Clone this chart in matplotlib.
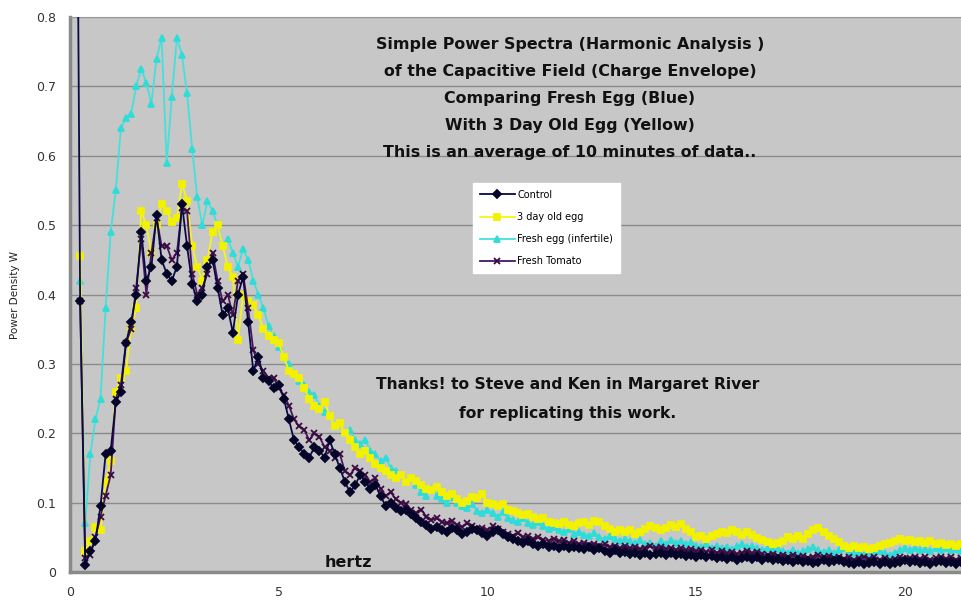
"""Power spectra of the capacitive field: fresh egg vs 3 day old egg."""

import numpy as np
import matplotlib
matplotlib.use("Agg")
import matplotlib.pyplot as plt

nan = np.nan

# frequency resolution of the spectra (Hz per bin), bins start at 1
BIN_HZ = 0.122

control = [
    1.5, 0.39, 0.01, 0.03, 0.045, 0.095, 0.17, 0.175, 0.245, 0.26,
    0.33, 0.36, 0.40, 0.49, 0.42, 0.44, 0.515, 0.45, 0.43, 0.42,
    0.44, 0.53, 0.47, 0.415, 0.39, 0.40, 0.44, 0.45, 0.41, 0.37,
    0.38, 0.345, 0.40, 0.425, 0.36, 0.29, 0.31, 0.28, 0.275, 0.265,
    0.27, 0.25, 0.22, 0.19, 0.18, 0.17, 0.165, 0.18, 0.175, 0.165,
    0.19, 0.17, 0.15, 0.13, 0.115, 0.125, 0.14, 0.13, 0.12, 0.125,
    0.11, 0.095, 0.10, 0.092, 0.088, 0.09, 0.084, 0.078, 0.072, 0.068,
    0.062, 0.065, 0.06, 0.058, 0.063, 0.06, 0.055, 0.058, 0.062, 0.06,
    0.056, 0.052, 0.058, 0.06, 0.055, 0.05, 0.048, 0.045, 0.042, 0.044,
    0.04, 0.038, 0.04, 0.036, 0.038, 0.035, 0.037, 0.034, 0.036, 0.035,
    0.033, 0.036, 0.032, 0.034, 0.03, 0.028, 0.031, 0.027, 0.029, 0.026,
    0.028, 0.025, 0.027, 0.024, 0.026, 0.028, 0.025, 0.027, 0.024, 0.026,
    0.023, 0.025, 0.022, 0.024, 0.021, 0.023, 0.02, 0.022, 0.019, 0.021,
    0.018, 0.02, 0.022, 0.019, 0.021, 0.018, 0.02, 0.017, 0.019, 0.016,
    0.018, 0.015, 0.017, 0.014, 0.016, 0.013, 0.015, 0.017, 0.014, 0.016,
    0.018, 0.015, 0.013, 0.012, 0.014, 0.011, 0.013, 0.015, 0.012, 0.014,
    0.011, 0.013, 0.015, 0.017, 0.014, 0.016, 0.013, 0.015, 0.012, 0.014,
    0.016, 0.013, 0.015, 0.012, 0.014,
]

old_egg = [
    nan, 0.455, 0.03, 0.045, 0.065, 0.06, 0.13, 0.16, 0.26, 0.28,
    0.29, 0.35, 0.38, 0.52, 0.50, 0.46, 0.50, 0.53, 0.52, 0.505,
    0.51, 0.56, 0.535, 0.47, 0.44, 0.42, 0.45, 0.49, 0.50, 0.47,
    0.44, 0.425, 0.335, 0.40, 0.39, 0.385, 0.37, 0.35, 0.34, 0.335,
    0.33, 0.31, 0.29, 0.285, 0.28, 0.265, 0.25, 0.24, 0.235, 0.245,
    0.225, 0.21, 0.215, 0.20, 0.19, 0.18, 0.17, 0.175, 0.165, 0.155,
    0.15, 0.145, 0.14, 0.136, 0.14, 0.13, 0.135, 0.131, 0.125, 0.12,
    0.118, 0.122, 0.115, 0.11, 0.112, 0.105, 0.10, 0.102, 0.108, 0.107,
    0.112, 0.10, 0.098, 0.095, 0.098, 0.09, 0.088, 0.085, 0.082, 0.084,
    0.08, 0.076, 0.078, 0.072, 0.07, 0.069, 0.072, 0.068, 0.066, 0.07,
    0.072, 0.068, 0.074, 0.072, 0.066, 0.062, 0.058, 0.061, 0.057, 0.06,
    0.055, 0.058, 0.062, 0.066, 0.064, 0.06, 0.064, 0.068, 0.065, 0.069,
    0.062, 0.058, 0.05, 0.052, 0.048, 0.052, 0.055, 0.058, 0.056, 0.06,
    0.058, 0.054, 0.057, 0.053, 0.049, 0.046, 0.043, 0.04, 0.042, 0.045,
    0.05, 0.047, 0.052, 0.048, 0.055, 0.06, 0.064, 0.058, 0.052, 0.047,
    0.043, 0.038, 0.035, 0.037, 0.034, 0.036, 0.033, 0.035, 0.038, 0.04,
    0.042, 0.045, 0.047, 0.044, 0.046, 0.043, 0.045, 0.042, 0.044, 0.04,
    0.042, 0.039, 0.041, 0.038, 0.04,
]

fresh_egg = [
    nan, 0.42, 0.07, 0.17, 0.22, 0.25, 0.38, 0.49, 0.55, 0.64,
    0.655, 0.66, 0.70, 0.725, 0.705, 0.675, 0.74, 0.77, 0.59, 0.685,
    0.77, 0.745, 0.69, 0.61, 0.54, 0.50, 0.535, 0.52, 0.50, 0.47,
    0.48, 0.46, 0.44, 0.465, 0.45, 0.42, 0.40, 0.38, 0.355, 0.34,
    0.325, 0.31, 0.30, 0.285, 0.275, 0.27, 0.26, 0.255, 0.24, 0.23,
    0.225, 0.21, 0.215, 0.20, 0.205, 0.19, 0.185, 0.19, 0.175, 0.17,
    0.16, 0.165, 0.15, 0.145, 0.14, 0.13, 0.135, 0.125, 0.115, 0.11,
    0.12, 0.11, 0.105, 0.10, 0.108, 0.10, 0.095, 0.092, 0.098, 0.088,
    0.085, 0.09, 0.085, 0.08, 0.086, 0.078, 0.075, 0.072, 0.078, 0.07,
    0.068, 0.072, 0.066, 0.062, 0.065, 0.06, 0.058, 0.062, 0.055, 0.058,
    0.054, 0.052, 0.056, 0.05, 0.048, 0.052, 0.047, 0.045, 0.048, 0.044,
    0.042, 0.046, 0.04, 0.042, 0.038, 0.044, 0.041, 0.046, 0.042, 0.045,
    0.04, 0.043, 0.038, 0.036, 0.04, 0.035, 0.038, 0.034, 0.036, 0.033,
    0.037, 0.04, 0.036, 0.038, 0.034, 0.032, 0.035, 0.031, 0.033, 0.03,
    0.028, 0.031, 0.027, 0.03, 0.033, 0.036, 0.032, 0.029, 0.031, 0.028,
    0.032, 0.035, 0.03, 0.027, 0.029, 0.025, 0.028, 0.026, 0.03, 0.027,
    0.025, 0.028, 0.031, 0.034, 0.032, 0.035, 0.031, 0.033, 0.03, 0.034,
    0.032, 0.035, 0.031, 0.033, 0.03,
]

tomato = [
    nan, 0.39, 0.02, 0.025, 0.05, 0.08, 0.11, 0.14, 0.25, 0.27,
    0.33, 0.35, 0.41, 0.48, 0.40, 0.46, 0.51, 0.47, 0.47, 0.45,
    0.46, 0.525, 0.52, 0.43, 0.40, 0.41, 0.43, 0.46, 0.42, 0.39,
    0.40, 0.37, 0.42, 0.43, 0.38, 0.32, 0.30, 0.29, 0.28, 0.28,
    0.265, 0.255, 0.24, 0.22, 0.21, 0.205, 0.19, 0.20, 0.195, 0.18,
    0.175, 0.165, 0.17, 0.145, 0.14, 0.15, 0.145, 0.14, 0.13, 0.135,
    0.12, 0.11, 0.115, 0.105, 0.10, 0.098, 0.09, 0.085, 0.09, 0.08,
    0.075, 0.078, 0.072, 0.07, 0.074, 0.068, 0.065, 0.07, 0.066, 0.062,
    0.064, 0.06, 0.066, 0.062, 0.058, 0.055, 0.052, 0.056, 0.05, 0.052,
    0.048, 0.05, 0.046, 0.045, 0.048, 0.044, 0.046, 0.042, 0.044, 0.04,
    0.042, 0.039, 0.041, 0.038, 0.04, 0.036, 0.038, 0.035, 0.037, 0.034,
    0.036, 0.033, 0.035, 0.037, 0.034, 0.036, 0.033, 0.035, 0.032, 0.034,
    0.031, 0.033, 0.03, 0.032, 0.029, 0.031, 0.028, 0.03, 0.027, 0.029,
    0.026, 0.028, 0.03, 0.027, 0.029, 0.026, 0.024, 0.026, 0.023, 0.025,
    0.022, 0.024, 0.021, 0.023, 0.02, 0.022, 0.024, 0.021, 0.023, 0.02,
    0.022, 0.019, 0.021, 0.018, 0.02, 0.022, 0.019, 0.021, 0.018, 0.02,
    0.017, 0.019, 0.021, 0.018, 0.02, 0.022, 0.019, 0.021, 0.018, 0.02,
    0.022, 0.019, 0.021, 0.018, 0.02,
]

series_names = ["Control", "3 day old egg", "Fresh egg (infertile)", "Fresh Tomato"]

title_lines = [
    "Simple Power Spectra (Harmonic Analysis )",
    "of the Capacitive Field (Charge Envelope)",
    "Comparing Fresh Egg (Blue)",
    "With 3 Day Old Egg (Yellow)",
    "This is an average of 10 minutes of data..",
]
thanks_lines = [
    "Thanks! to Steve and Ken in Margaret River",
    "for replicating this work.",
]


def bins(values):
    return np.arange(1, len(values) + 1) * BIN_HZ


fig = plt.figure(figsize=(9.61, 6.03), dpi=100)
ax = fig.add_axes([0.0728, 0.0514, 0.9272, 0.9204])
ax.set_facecolor("#c7c7c7")

# (values, colour, marker colour, marker, size, zorder)
styles = [
    (control, "#0a0a45", "#05052a", "D", 4.0, 4),
    (old_egg, "#f5f51a", "#f2f200", "s", 4.5, 2),
    (fresh_egg, "#45e0dc", "#30dcd8", "^", 4.5, 1),
    (tomato, "#4a1560", "#3a0a40", "x", 5.0, 3),
]
for name, (vals, col, mcol, mk, ms, z) in zip(series_names, styles):
    ax.plot(bins(vals), vals, color=col, lw=1.3, marker=mk, ms=ms,
            mfc=mcol, mec=mcol, mew=1.3, label=name, zorder=z)

ax.set_xlim(0, 21.35)
ax.set_ylim(0, 0.8)
ax.set_xticks([0, 5, 10, 15, 20])
ax.set_yticks(np.arange(0, 0.81, 0.1))
ax.set_yticklabels(["0", "0.1", "0.2", "0.3", "0.4", "0.5", "0.6", "0.7", "0.8"])
ax.tick_params(length=0, labelsize=9, colors="#333333", pad=10)
ax.yaxis.grid(True, color="#8a8a8a", lw=1.0)
ax.set_axisbelow(True)
for side in ["left", "bottom"]:
    ax.spines[side].set_color("#8a8a8a")
    ax.spines[side].set_linewidth(2.5)
ax.spines["top"].set_color("#9a9a9a")
ax.spines["right"].set_visible(False)

for i, line in enumerate(title_lines):
    ax.text(0.561, 0.950 - i * 0.0487, line, transform=ax.transAxes,
            ha="center", va="center", fontsize=11.4, fontweight="bold", color="#111111")
for i, line in enumerate(thanks_lines):
    ax.text(0.559, 0.337 - i * 0.051, line, transform=ax.transAxes,
            ha="center", va="center", fontsize=11.2, fontweight="bold", color="#111111")
ax.text(0.313, 0.018, "hertz", transform=ax.transAxes, ha="center", va="center",
        fontsize=11.5, fontweight="bold", color="#111111")

fig.text(0.016, 0.51, "Power Density W", rotation=90, ha="center", va="center",
         fontsize=7.5, color="#222222")

leg = ax.legend(loc="upper left", bbox_to_anchor=(0.452, 0.701), fontsize=7,
                frameon=True, fancybox=False, framealpha=1, handlelength=3.6,
                borderpad=0.7, labelspacing=1.25, handletextpad=0.3,
                borderaxespad=0)
leg.get_frame().set_facecolor("white")
leg.get_frame().set_edgecolor("white")

fig.savefig("out.png", dpi=100)
